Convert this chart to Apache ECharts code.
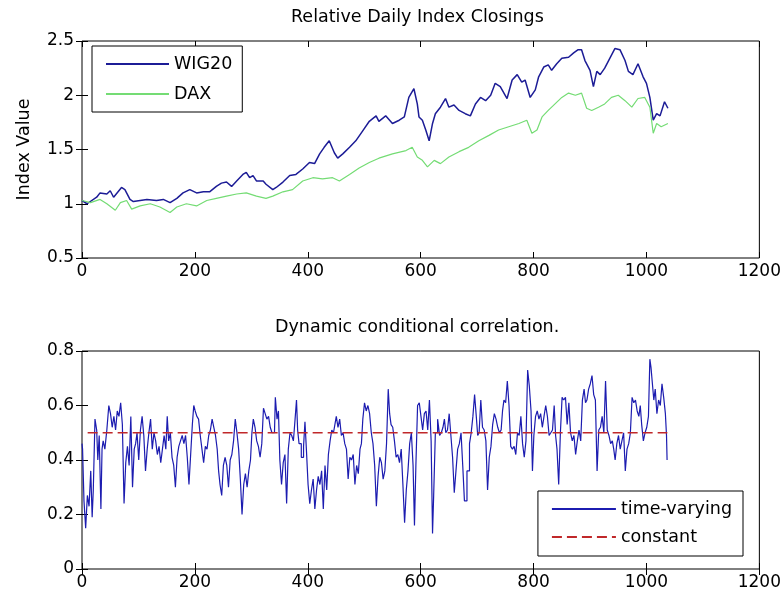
<!DOCTYPE html>
<html>
<head>
<meta charset="utf-8">
<script src="https://cdn.jsdelivr.net/npm/echarts@6/dist/echarts.min.js"></script>
<style>
html,body{margin:0;padding:0;background:#fff;}
#chart{width:784px;height:597px;}
</style>
</head>
<body>
<div id="chart"></div>
<script>
// ---- Data ----
const xTicks = [0, 200, 400, 600, 800, 1000, 1200];

const wigDays = [0,9,26,32,44,50,56,70,76,85,91,103,115,132,144,156,168,179,191,203,215,226,238,247,256,265,274,285,291,297,303,309,321,326,338,344,356,368,379,391,403,412,421,429,438,447,453,462,474,485,497,509,521,526,538,550,562,571,579,588,594,597,603,609,615,621,626,635,644,650,659,668,679,688,697,706,715,724,732,741,753,762,771,779,785,794,803,809,818,826,832,841,850,862,871,879,885,891,900,906,912,918,926,935,944,953,962,968,976,985,994,1000,1006,1012,1018,1024,1032,1038];
const wigValues = [1.03,1.0,1.06,1.1,1.09,1.12,1.06,1.15,1.13,1.04,1.02,1.03,1.04,1.03,1.04,1.01,1.05,1.1,1.13,1.1,1.11,1.11,1.16,1.19,1.2,1.16,1.21,1.27,1.29,1.24,1.26,1.21,1.21,1.18,1.13,1.15,1.2,1.26,1.27,1.32,1.38,1.37,1.46,1.52,1.58,1.47,1.42,1.46,1.52,1.58,1.67,1.76,1.81,1.76,1.81,1.74,1.77,1.8,1.98,2.06,1.92,1.8,1.77,1.68,1.58,1.74,1.83,1.89,1.97,1.89,1.91,1.86,1.83,1.81,1.92,1.98,1.95,2.0,2.11,2.08,1.97,2.14,2.19,2.12,2.14,1.98,2.05,2.17,2.26,2.28,2.23,2.29,2.34,2.35,2.39,2.42,2.42,2.32,2.23,2.08,2.22,2.19,2.25,2.34,2.43,2.42,2.32,2.22,2.19,2.29,2.17,2.11,1.98,1.77,1.83,1.81,1.94,1.88];

const daxDays = [0,15,32,44,59,68,79,88,103,121,138,156,168,185,203,221,238,256,274,291,309,326,338,356,373,391,409,426,444,456,474,491,509,526,550,574,585,594,603,612,624,635,650,668,685,703,721,738,756,774,788,797,806,815,826,838,850,862,874,885,894,903,915,926,938,950,962,974,985,997,1006,1012,1018,1026,1038];
const daxValues = [1.03,1.01,1.04,1.0,0.94,1.01,1.03,0.95,0.98,1.0,0.97,0.92,0.97,1.0,0.98,1.03,1.05,1.07,1.09,1.1,1.07,1.05,1.07,1.11,1.13,1.21,1.24,1.23,1.24,1.21,1.27,1.33,1.38,1.42,1.46,1.49,1.52,1.43,1.4,1.34,1.4,1.37,1.43,1.48,1.52,1.58,1.63,1.68,1.71,1.74,1.77,1.65,1.68,1.8,1.86,1.92,1.98,2.02,2.0,2.02,1.88,1.86,1.89,1.92,1.98,2.0,1.95,1.89,1.97,1.98,1.89,1.65,1.74,1.71,1.74];

const dccDays = [0,2,5,8,11,14,17,19,21,25,27,29,32,35,36,39,42,46,49,52,55,58,61,64,67,70,73,76,79,82,85,88,91,94,96,99,102,105,108,111,114,117,120,123,126,129,132,135,138,141,144,147,150,152,155,158,161,164,167,170,173,176,179,182,185,188,191,194,197,199,202,205,208,211,214,217,220,223,226,229,232,235,238,241,243,246,249,252,255,258,261,264,267,270,273,276,279,282,285,288,291,294,297,300,302,305,308,311,314,317,320,323,326,329,332,335,338,
341,344,347,349,352,355,358,361,364,367,370,373,376,379,381,383,386,391,394,396,399,402,405,408,411,414,417,420,423,426,429,432,435,438,441,444,447,449,452,455,458,461,464,467,470,473,476,479,482,485,488,491,494,496,499,502,505,508,511,514,517,520,523,526,529,532,535,538,541,544,546,549,552,555,558,561,564,567,570,573,576,579,582,585,588,590,593,596,599,602,605,608,611,614,617,620,622,624,628,632,635,638,641,643,646,649,652,655,658,661,664,667,670,673,676,679,
685,688,691,694,697,700,702,705,708,711,714,717,720,723,726,729,732,735,738,741,744,746,749,752,755,758,761,764,767,770,773,776,779,782,785,788,791,794,797,799,802,805,808,811,814,817,820,823,826,829,832,835,838,840,843,846,849,852,855,858,861,864,867,870,873,876,879,882,885,888,891,893,896,899,902,905,908,911,914,917,920,923,926,929,932,935,938,941,943,946,949,952,955,958,961,964,967,970,973,976,979,982,985,988,990,993,996,999,1002,1005,1007,1009,1012,1014,1017,1020,1023,1026,1029,1032,1035,1036,1037];
const dccValues = [0.46,0.44,0.25,0.15,0.27,0.23,0.36,0.19,0.29,0.55,0.51,0.40,0.49,0.22,0.44,0.47,0.44,0.51,0.60,0.57,0.52,0.56,0.51,0.58,0.56,0.61,0.53,0.24,0.39,0.45,0.38,0.56,0.30,0.44,0.46,0.50,0.40,0.51,0.56,0.49,0.36,0.44,0.50,0.55,0.44,0.50,0.47,0.42,0.45,0.39,0.44,0.49,0.44,0.56,0.47,0.50,0.41,0.38,0.30,0.41,0.45,0.47,0.49,0.46,0.49,0.41,0.31,0.42,0.53,0.60,0.58,0.56,0.55,0.49,0.44,0.39,0.45,0.44,0.49,0.51,0.55,0.52,0.49,0.44,0.36,0.31,0.27,0.38,0.41,0.38,0.30,0.40,0.42,0.47,0.55,0.50,0.44,0.33,0.20,0.31,0.35,0.30,0.36,0.40,0.50,0.55,0.52,0.47,0.45,0.41,0.46,0.59,0.57,0.55,0.56,0.52,0.50,
0.50,0.63,0.55,0.58,0.40,0.31,0.39,0.42,0.24,0.44,0.50,0.49,0.47,0.55,0.62,0.51,0.46,0.41,0.45,0.54,0.44,0.31,0.24,0.29,0.33,0.22,0.29,0.34,0.31,0.36,0.22,0.38,0.29,0.42,0.47,0.51,0.50,0.53,0.56,0.52,0.55,0.49,0.50,0.46,0.44,0.33,0.41,0.40,0.42,0.31,0.38,0.35,0.44,0.46,0.55,0.61,0.58,0.60,0.57,0.50,0.46,0.38,0.23,0.34,0.41,0.39,0.33,0.36,0.46,0.66,0.57,0.53,0.52,0.47,0.41,0.42,0.39,0.44,0.31,0.17,0.29,0.36,0.46,0.50,0.38,0.16,0.38,0.60,0.61,0.56,0.51,0.57,0.58,0.51,0.62,0.47,0.13,0.27,0.50,0.55,0.49,0.50,0.52,0.55,0.50,0.51,0.57,0.49,0.41,0.28,0.36,0.44,0.46,0.50,0.38,0.25,
0.36,0.46,0.50,0.56,0.64,0.56,0.49,0.50,0.62,0.52,0.51,0.47,0.29,0.41,0.45,0.53,0.57,0.55,0.52,0.50,0.51,0.58,0.62,0.61,0.69,0.60,0.45,0.44,0.45,0.42,0.50,0.49,0.56,0.46,0.41,0.47,0.73,0.67,0.58,0.36,0.49,0.56,0.58,0.55,0.57,0.52,0.56,0.60,0.56,0.49,0.50,0.51,0.60,0.49,0.44,0.31,0.50,0.63,0.62,0.63,0.53,0.61,0.50,0.47,0.49,0.42,0.47,0.51,0.47,0.62,0.66,0.61,0.62,0.66,0.68,0.71,0.64,0.62,0.36,0.51,0.52,0.56,0.50,0.69,0.51,0.49,0.46,0.47,0.44,0.40,0.46,0.49,0.44,0.47,0.50,0.36,0.44,0.46,0.50,0.63,0.61,0.62,0.58,0.56,0.60,0.53,0.47,0.50,0.52,0.56,0.77,0.74,0.68,0.62,0.66,0.57,0.62,0.60,0.68,0.63,0.57,0.49,0.40];

const constDays = [10, 1037];
const constValues = [0.5, 0.5];

// ---- Helpers ----
function pairs(xs, ys) { return xs.map((x, i) => [x, ys[i]]); }

const FONT = 'DejaVu Sans';
const TXT = '#000';
const plainNum = v => String(Math.round(v * 1000) / 1000);

function xAx(grid, pos, showLabel) {
  return {
    gridIndex: grid, type: 'value', position: pos,
    min: xTicks[0], max: xTicks[xTicks.length - 1], interval: 200,
    axisLine: { show: false },
    axisTick: { show: true, inside: true, length: 6, lineStyle: { color: '#000', width: 1 } },
    axisLabel: { show: showLabel, color: TXT, fontSize: 17, fontFamily: FONT, margin: 5,
      showMinLabel: true, showMaxLabel: true, formatter: plainNum },
    splitLine: { show: false }
  };
}
function yAx(grid, pos, showLabel, min, max, interval, name) {
  const a = {
    gridIndex: grid, type: 'value', position: pos,
    min: min, max: max, interval: interval,
    axisLine: { show: false },
    axisTick: { show: true, inside: true, length: 6, lineStyle: { color: '#000', width: 1 } },
    axisLabel: { show: showLabel, color: TXT, fontSize: 17, fontFamily: FONT, margin: 8,
      showMinLabel: true, showMaxLabel: true, formatter: plainNum },
    splitLine: { show: false }
  };
  if (name) {
    a.name = name;
    a.nameLocation = 'middle';
    a.nameRotate = 90;
    a.nameGap = 49;
    a.nameTextStyle = { color: TXT, fontSize: 17.5, fontFamily: FONT };
  }
  return a;
}

const legendBase = {
  orient: 'vertical', itemHeight: 14,
  borderColor: '#000', borderWidth: 1, backgroundColor: '#fff',
  itemStyle: { opacity: 0 },
  textStyle: { fontSize: 17.5, color: TXT, fontFamily: FONT, lineHeight: 18 }
};

const chart = echarts.init(document.getElementById('chart'), null, { renderer: 'canvas' });
chart.setOption({
  animation: false,
  backgroundColor: '#fff',
  textStyle: { fontFamily: FONT },
  title: [
    { text: 'Relative Daily Index Closings', left: 291, top: 8, padding: 0,
      textStyle: { fontSize: 17.5, fontWeight: 'normal', color: TXT, fontFamily: FONT } },
    { text: 'Dynamic conditional correlation.', left: 275, top: 318, padding: 0,
      textStyle: { fontSize: 17.5, fontWeight: 'normal', color: TXT, fontFamily: FONT } }
  ],
  legend: [
    Object.assign({}, legendBase, { data: ['WIG20', 'DAX'], left: 92, top: 46,
      padding: [9, 10, 9, 13], itemWidth: 63, itemGap: 12 }),
    Object.assign({}, legendBase, { data: ['time-varying', 'constant'], right: 41, top: 491,
      padding: [9, 11, 10, 13], itemWidth: 64, itemGap: 10 })
  ],
  grid: [
    { left: 82, top: 41, width: 680, height: 217, show: true, borderColor: '#000', borderWidth: 1, backgroundColor: '#fff' },
    { left: 82, top: 351, width: 680, height: 218, show: true, borderColor: '#000', borderWidth: 1, backgroundColor: '#fff' }
  ],
  xAxis: [ xAx(0, 'bottom', true), xAx(0, 'top', false), xAx(1, 'bottom', true), xAx(1, 'top', false) ],
  yAxis: [
    yAx(0, 'left', true, 0.5, 2.5, 0.5, 'Index Value'), yAx(0, 'right', false, 0.5, 2.5, 0.5),
    yAx(1, 'left', true, 0, 0.8, 0.2), yAx(1, 'right', false, 0, 0.8, 0.2)
  ],
  series: [
    { name: 'WIG20', type: 'line', xAxisIndex: 0, yAxisIndex: 0, data: pairs(wigDays, wigValues),
      symbol: 'none', lineStyle: { color: '#1c1c96', width: 1.5 }, itemStyle: { color: '#1c1c96' } },
    { name: 'DAX', type: 'line', xAxisIndex: 0, yAxisIndex: 0, data: pairs(daxDays, daxValues),
      symbol: 'none', lineStyle: { color: '#74dc74', width: 1.2 }, itemStyle: { color: '#74dc74' } },
    { name: 'time-varying', type: 'line', step: 'middle', xAxisIndex: 2, yAxisIndex: 2, data: pairs(dccDays, dccValues),
      symbol: 'none', lineStyle: { color: '#1c1cb0', width: 1.2 }, itemStyle: { color: '#1c1cb0' } },
    { name: 'constant', type: 'line', xAxisIndex: 2, yAxisIndex: 2, data: pairs(constDays, constValues),
      symbol: 'none', lineStyle: { color: '#c0282a', width: 1.3, type: [10, 5] }, itemStyle: { color: '#c0282a' } }
  ]
});
</script>
</body>
</html>
